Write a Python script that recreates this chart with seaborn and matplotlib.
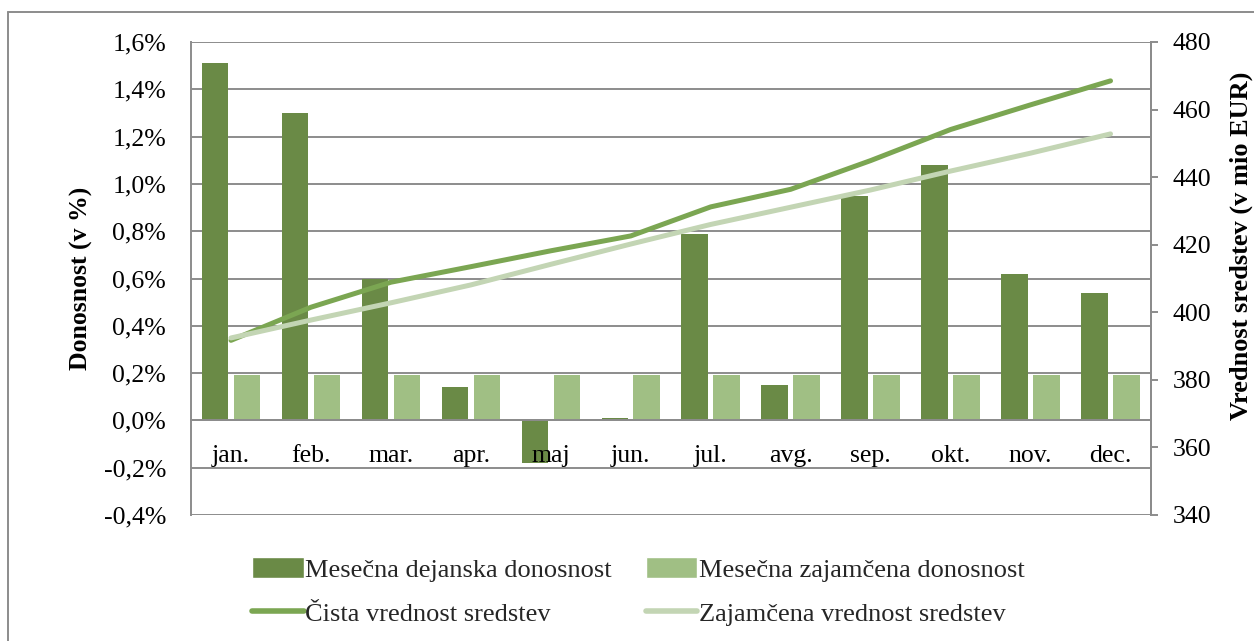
import numpy as np
import pandas as pd
import matplotlib
matplotlib.use("Agg")
import matplotlib.pyplot as plt
import seaborn as sns
from matplotlib.ticker import FuncFormatter
from matplotlib.lines import Line2D
from matplotlib.patches import Patch

# data
months = ["jan.", "feb.", "mar.", "apr.", "maj", "jun.",
          "jul.", "avg.", "sep.", "okt.", "nov.", "dec."]
actual_return = [1.51, 1.30, 0.60, 0.14, -0.18, 0.01, 0.79, 0.15, 0.95, 1.08, 0.62, 0.54]
guaranteed_return = [0.19] * 12
net_value = [391.7, 401.5, 408.9, 413.5, 418.2, 422.6, 431.2, 436.4, 444.9, 454.1, 461.4, 468.5]
guaranteed_value = [392.4, 397.7, 402.8, 408.1, 414.2, 420.2, 426.0, 431.1, 436.2, 441.8, 447.1, 452.8]

bar_names = ["Mesečna dejanska donosnost", "Mesečna zajamčena donosnost"]
line_names = ["Čista vrednost sredstev", "Zajamčena vrednost sredstev"]

dark_bar = "#6A8A46"
light_bar = "#A0BF84"
dark_line = "#7BA652"
light_line = "#C3D5B4"
grid_gray = "#8C8C8C"

sns.set_theme(style="white")
plt.rcParams["font.family"] = ["Liberation Serif", "DejaVu Serif"]

df_bars = pd.DataFrame({
    "Mesec": months * 2,
    "Donosnost": actual_return + guaranteed_return,
    "Serija": [bar_names[0]] * 12 + [bar_names[1]] * 12,
})

fig = plt.figure(figsize=(12.54, 6.41), dpi=100)
ax = fig.add_axes([191 / 1254, 1 - 515 / 641, (1150.5 - 191) / 1254, (515 - 42) / 641])

sns.barplot(data=df_bars, x="Mesec", y="Donosnost", hue="Serija",
            palette=[dark_bar, light_bar], saturation=1, width=0.8, gap=0.17,
            linewidth=0, legend=False, ax=ax)

ax.set_ylim(-0.4, 1.6)
ax.set_yticks(np.arange(-0.4, 1.61, 0.2))
ax.yaxis.set_major_formatter(FuncFormatter(lambda v, p: f"{v:.1f}%".replace(".", ",").replace("-0,0", "0,0")))
ax.set_axisbelow(True)
ax.yaxis.grid(True, color=grid_gray, lw=1.4)
ax.tick_params(axis="y", length=0, pad=18, labelsize=18.5, labelcolor="black")

ax.spines["bottom"].set_position(("data", 0))
for side in ["left", "bottom", "right"]:
    ax.spines[side].set_color(grid_gray)
    ax.spines[side].set_linewidth(1.4)
ax.spines["top"].set_visible(False)

# category boundaries get the tick marks, month names sit in front of the bars
ax.set_xticks(np.arange(-0.5, 12, 1))
ax.set_xticklabels([""] * 13)
ax.tick_params(axis="x", which="major", direction="out", length=5, width=1.4, color=grid_gray)
ax.set_xlabel("")
for i, m in enumerate(months):
    ax.annotate(m, xy=(i, 0), xytext=(0, -18), textcoords="offset points",
                ha="center", va="top", fontsize=18.5, color="black", zorder=5)

ax.set_ylabel("Donosnost (v %)", fontsize=18.5, fontweight="bold", color="black")
ax.yaxis.set_label_coords((93 - 191) / 956, 0.5)

ax2 = ax.twinx()
x_pos = np.arange(12)
sns.lineplot(x=x_pos, y=net_value, ax=ax2, color=dark_line, lw=3.6,
             solid_capstyle="round")
sns.lineplot(x=x_pos, y=guaranteed_value, ax=ax2, color=light_line, lw=3.6,
             solid_capstyle="round")
ax2.set_ylim(340, 480)
ax2.set_yticks(np.arange(340, 481, 20))
ax2.set_xlim(-0.5, 11.5)
ax2.tick_params(axis="y", direction="out", length=5, width=1.4, color=grid_gray,
                pad=11, labelsize=18.5, labelcolor="black")
for side in ["left", "bottom", "top"]:
    ax2.spines[side].set_visible(False)
ax2.spines["right"].set_color(grid_gray)
ax2.spines["right"].set_linewidth(1.4)
ax2.set_ylabel("Vrednost sredstev (v mio EUR)", fontsize=19, fontweight="bold",
               color="black")
ax2.yaxis.set_label_coords((1226 - 191) / 956, 0.57)
ax2.grid(False)

handles = [
    Patch(facecolor=dark_bar, label=bar_names[0]),
    Line2D([], [], color=dark_line, lw=4, label=line_names[0]),
    Patch(facecolor=light_bar, label=bar_names[1]),
    Line2D([], [], color=light_line, lw=4, label=line_names[1]),
]
fig.legend(handles=handles, ncol=2, loc="center", bbox_to_anchor=(0.509, 0.077),
           frameon=False, fontsize=19, handlelength=1.95, handleheight=0.8,
           handletextpad=0.05, columnspacing=1.3, labelspacing=0.75)

# outer frame
fig.add_artist(Line2D([8 / 1254, 8 / 1254], [0, 1 - 12 / 641], color=grid_gray, lw=1.4))
fig.add_artist(Line2D([8 / 1254, 1], [1 - 12 / 641, 1 - 12 / 641], color=grid_gray, lw=1.4))

fig.savefig("out.png", dpi=100)
